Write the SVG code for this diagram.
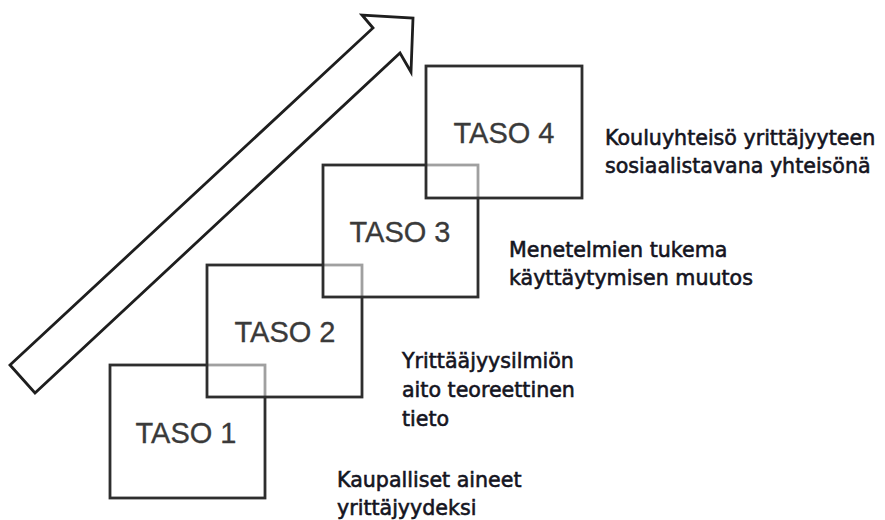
<svg xmlns="http://www.w3.org/2000/svg" width="885" height="520" viewBox="0 0 885 520">
  <style>
    .box { fill: #ffffff; fill-opacity: 0.55; stroke: #2e2e2e; stroke-width: 2.8; }
    .taso { font-family: "Liberation Sans", Arial, sans-serif; font-size: 29px; fill: #3a3a3a; stroke: #3a3a3a; stroke-width: 0.3; text-anchor: middle; }
    .desc { font-family: "DejaVu Sans", Verdana, sans-serif; font-size: 20.6px; fill: #15151f; stroke: #15151f; stroke-width: 0.6; }
    .arrow { fill: #ffffff; stroke: #1e1e1e; stroke-width: 2.8; stroke-linejoin: miter; }
  </style>
  <rect width="885" height="520" fill="#ffffff"/>

  <!-- rising arrow behind the steps -->
  <g id="connectors">
    <polygon class="arrow" points="10,365 373,28 362,15 413,18 411,72 400,53 35,393"/>
  </g>

  <!-- steps, each drawn over the previous one -->
  <g id="taso1">
    <rect class="box" x="110" y="365" width="155" height="133"/>
    <text class="taso" x="186" y="443">TASO 1</text>
  </g>
  <g id="taso2">
    <rect class="box" x="207" y="265" width="155" height="132"/>
    <text class="taso" x="285" y="342">TASO 2</text>
  </g>
  <g id="taso3">
    <rect class="box" x="323" y="165" width="155" height="132"/>
    <text class="taso" x="400" y="242">TASO 3</text>
  </g>
  <g id="taso4">
    <rect class="box" x="426" y="66" width="156" height="132"/>
    <text class="taso" x="504" y="143">TASO 4</text>
  </g>

  <!-- descriptions -->
  <g id="kuvaus4">
    <text class="desc" x="605" y="145">Kouluyhteisö yrittäjyyteen</text>
    <text class="desc" x="605" y="173">sosiaalistavana yhteisönä</text>
  </g>
  <g id="kuvaus3">
    <text class="desc" x="509" y="257">Menetelmien tukema</text>
    <text class="desc" x="509" y="285">käyttäytymisen muutos</text>
  </g>
  <g id="kuvaus2">
    <text class="desc" x="402" y="368">Yrittääjyysilmiön</text>
    <text class="desc" x="402" y="397">aito teoreettinen</text>
    <text class="desc" x="402" y="426">tieto</text>
  </g>
  <g id="kuvaus1">
    <text class="desc" x="337" y="487">Kaupalliset aineet</text>
    <text class="desc" x="337" y="515">yrittäjyydeksi</text>
  </g>
</svg>
